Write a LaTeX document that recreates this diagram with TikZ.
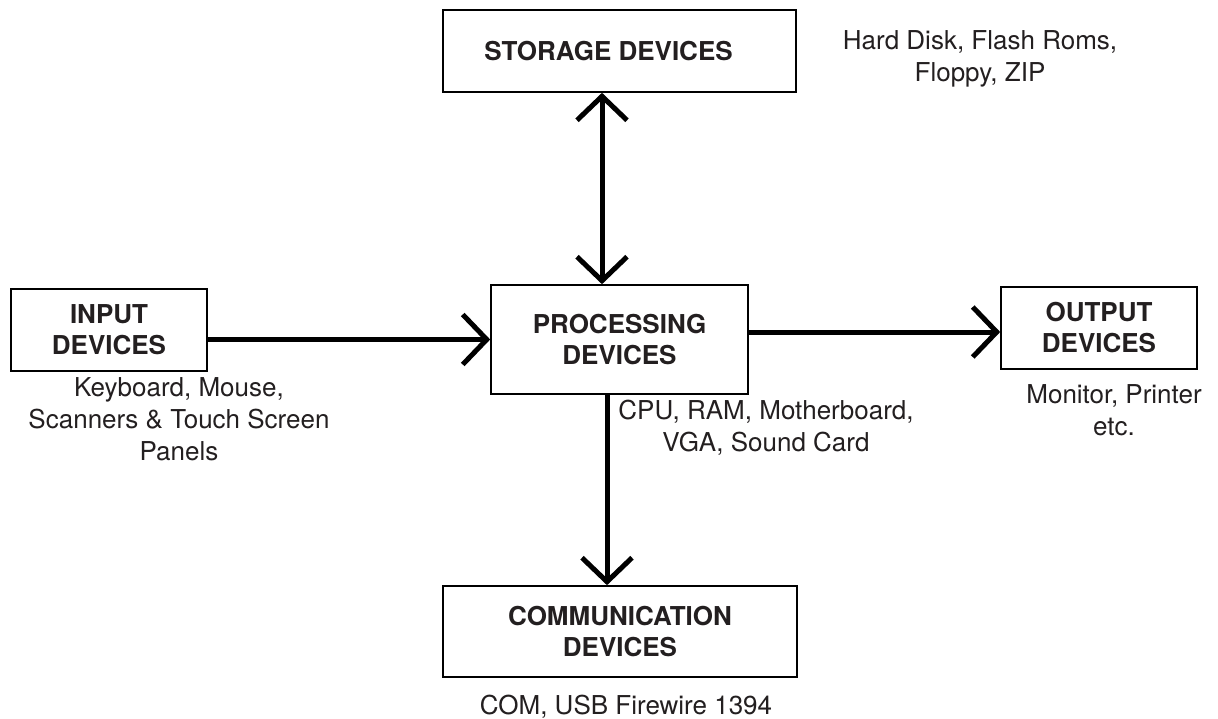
\documentclass[tikz,border=0pt]{standalone}
\usepackage{fontspec}
\setmainfont{TeX Gyre Heros}
\usetikzlibrary{arrows.meta}
\definecolor{ink}{HTML}{231F20}
\begin{document}
\begin{tikzpicture}[x=1pt,y=-1pt,
  >={Straight Barb[length=24pt,width=50pt,line width=5pt]},
  box/.style={draw=black, line width=1.6pt, fill=white, align=center,
    font=\fontsize{26}{31}\selectfont\bfseries, text=ink, inner sep=0pt},
  note/.style={align=center, font=\fontsize{26}{32}\selectfont, text=ink, inner sep=0pt},
  conn/.style={line width=5pt, draw=black}
]
\fill[white] (0,0) rectangle (1218,719);
\useasboundingbox (0,0) rectangle (1218,719);

\node[box, minimum width=353pt, minimum height=82pt] (storage) at (619.5,51) {\kern-22pt STORAGE DEVICES};
\node[box, minimum width=196pt, minimum height=82pt] (input) at (109,330) {INPUT\\DEVICES};
\node[box, minimum width=257pt, minimum height=109pt] (proc) at (619.5,339.5) {PROCESSING\\DEVICES};
\node[box, minimum width=196pt, minimum height=82pt] (output) at (1099,328) {OUTPUT\\DEVICES};
\node[box, minimum width=354pt, minimum height=91pt] (comm) at (620,631.5) {COMMUNICATION\\DEVICES};

\node[note] (storagenote) at (980,59) {Hard Disk, Flash Roms,\\Floppy, ZIP};
\node[note] (inputnote) at (179,419) {Keyboard, Mouse,\\Scanners \& Touch Screen\\Panels};
\node[note] (procnote) at (766,428) {CPU, RAM, Motherboard,\\VGA, Sound Card};
\node[note] (outputnote) at (1114,410) {Monitor, Printer\\etc.};
\node[note] (commnote) at (626,707) {COM, USB Firewire 1394};

\draw[conn,->] (input.east |- proc.west) -- (proc.west);
\draw[conn,->] (proc.east |- 0,332) -- (output.west |- 0,332);
\draw[conn,<->] (storage.south -| 602,0) -- (proc.north -| 602,0);
\draw[conn,->] (proc.south -| 607,0) -- (comm.north -| 607,0);
\end{tikzpicture}
\end{document}
